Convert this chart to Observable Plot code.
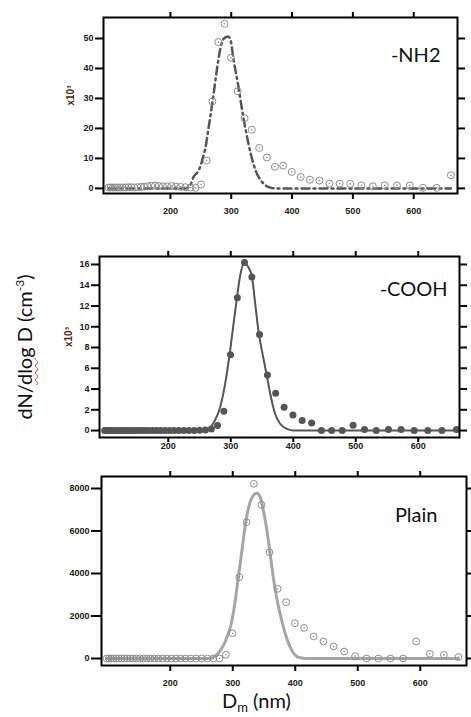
<!DOCTYPE html>
<html><head><meta charset="utf-8">
<script src="https://cdn.jsdelivr.net/npm/d3@7"></script>
<script src="https://cdn.jsdelivr.net/npm/@observablehq/plot@0.6"></script>
<style>
html,body{margin:0;padding:0;background:#fff;}
#chart{position:relative;width:471px;height:717px;overflow:hidden;background:#fff;}
#chart svg{display:block;}
.ylab{position:absolute;left:24px;top:347px;transform:translate(-50%,-50%) rotate(-90deg);white-space:nowrap;font-family:Lato,"Open Sans",sans-serif;font-size:20px;color:#111;line-height:1;}
.ylab sup{font-size:12px;vertical-align:8px;line-height:0;}
.sq{text-decoration:underline wavy #e23030;text-decoration-thickness:1px;text-underline-offset:2px;}
.xlab{position:absolute;left:222px;top:690px;white-space:nowrap;font-family:Lato,"Open Sans",sans-serif;font-size:20px;color:#111;line-height:1;}
.xlab sub{font-size:13px;vertical-align:-4px;line-height:0;}
</style>
</head><body>
<div id="chart"></div>
<script>
// Mobility diameter bins (nm)
const diameters = [98.2, 101.8, 105.5, 109.4, 113.4, 117.6, 121.9, 126.3, 131.0, 135.8, 140.7, 145.9, 151.2, 156.8, 162.5, 168.5, 174.7, 181.1, 187.7, 194.6, 201.7, 209.1, 216.7, 224.7, 232.9, 241.4, 250.3, 259.5, 269.0, 278.8, 289.0, 299.6, 310.6, 322.0, 333.8, 346.0, 358.7, 371.8, 385.4, 399.5, 414.2, 429.4, 445.1, 461.4, 478.3, 495.8, 514.0, 532.8, 552.3, 572.5, 593.5, 615.3, 637.8, 661.2];

// -NH2 measured (x10^3)
const nh2Values = [0.3, 0.3, 0.3, 0.3, 0.3, 0.3, 0.3, 0.3, 0.4, 0.4, 0.3, 0.4, 0.5, 0.6, 0.7, 0.9, 1.0, 0.8, 0.7, 0.7, 0.8, 0.6, 0.5, 0.4, 0.3, 0.2,
  1.3, 9.3, 29, 48.8, 54.9, 43.6, 32.4, 23.4, 19.6, 13.5, 10.3, 7.2, 7.6, 5.5, 3.8, 2.9, 2.6, 1.6, 1.6, 1.5, 1.0, 0.7, 1.0, 1.0, 1.0, 0.2, 0.2, 4.4];
// -NH2 fit
const nh2FitX = [98, 225, 232, 238, 247, 252, 258, 263, 270, 276, 282, 288, 295, 299, 304, 311, 318, 325, 332, 340, 351, 362, 372, 661];
const nh2FitY = [0, 0, 0.8, 3.8, 6.2, 9.2, 14, 20.5, 30, 39, 46.5, 50, 50.7, 49.3, 42.7, 34.9, 26, 18.2, 11.6, 6, 2.1, 0.4, 0, 0];

// -COOH measured (x10^3)
const coohValues = [0, 0, 0, 0, 0, 0, 0, 0, 0, 0, 0, 0, 0, 0, 0, 0, 0, 0, 0, 0, 0, 0, 0, 0, 0, 0, 0.03, 0.05,
  0.16, 0.48, 1.85, 7.3, 12.8, 16.2, 14.8, 9.25, 5.35, 3.6, 2.25, 1.5, 0.98, 0.72, 0, 0, 0, 0.5, 0.1, 0, 0.1, 0.1, 0, 0, 0, 0.1];
const coohFitX = [98, 260, 267, 275, 283, 291, 299, 304.5, 310, 315, 321.6, 328.5, 334, 339, 344.5, 351.5, 358, 364, 371, 379, 390, 400, 661];
const coohFitY = [0, 0, 0.3, 1.0, 2.25, 4.5, 7.7, 10.3, 12.85, 14.9, 16.2, 15.7, 14.8, 12.3, 9.5, 7.2, 5.2, 3.3, 1.6, 0.65, 0.16, 0, 0];

// Plain measured
const plainValues = [0, 0, 0, 0, 0, 0, 0, 0, 0, 0, 0, 0, 0, 0, 0, 0, 0, 0, 0, 0, 0, 0, 0, 0, 0, 0, 0, 0, 0, 0,
  175, 1190, 3830, 6415, 8220, 7230, 5000, 3280, 2650, 1660, 1440, 1035, 800, 565, 330, 110, 0, 0, 0, 0, 800, 220, 170, 70];
const plainFitX = [98, 262, 269, 280, 290.7, 298.7, 304, 309, 314.7, 320, 327, 333, 338.7, 344, 349, 354.7, 360, 365, 370.7, 378.7, 386.7, 394.7, 405, 420, 661];
const plainFitY = [0, 0, 60, 376, 1000, 1790, 2730, 3830, 5080, 6260, 7280, 7670, 7780, 7590, 6960, 6020, 4900, 3800, 2800, 1750, 925, 376, 60, 0, 0];

const xTicks = [200, 300, 400, 500, 600];
const nh2Ticks = [0, 10, 20, 30, 40, 50];
const coohTicks = [0, 2, 4, 6, 8, 10, 12, 14, 16];
const plainTicks = [0, 2000, 4000, 6000, 8000];
const panelLabels = ["-NH2", "-COOH", "Plain"];

const pts = (vals) => diameters.map((d, i) => ({d, v: vals[i]}));
const fit = (xs, ys) => xs.map((d, i) => ({d, v: ys[i]}));

const tickFont = {fontSize: 9, fontWeight: "bold", fill: "#231a12"};
function axes(yTicks, o) {
  return [
    Plot.frame({stroke: "#000", strokeWidth: 2}),
    Plot.axisX(xTicks, {anchor: "bottom", tickSize: o.bx, tickPadding: o.bp, strokeWidth: 2, label: null, tickFormat: "d", ...tickFont}),
    Plot.axisX(xTicks, {anchor: "top", tickSize: 6, strokeWidth: 2, label: null, tickFormat: () => ""}),
    Plot.axisY(yTicks, {anchor: "left", tickSize: o.ly, tickPadding: 2, strokeWidth: 2, label: null, tickFormat: "d", ...tickFont}),
    Plot.axisY(yTicks, {anchor: "right", tickSize: 7, strokeWidth: 2, label: null, tickFormat: () => ""})
  ];
}
const style = {fontFamily: "'Liberation Sans', Arial, sans-serif", background: "transparent", overflow: "visible"};
const labelStyle = {fontFamily: "Lato, 'Open Sans', sans-serif", fontSize: 20, fill: "#111", textAnchor: "end", lineAnchor: "middle"};
const expStyle = {fontSize: 10, fontWeight: "bold", fill: "#4a2a1a", rotate: -90, frameAnchor: "left"};

const p1 = Plot.plot({
  width: 471, height: 220, marginLeft: 103, marginRight: 14, marginTop: 17, marginBottom: 27,
  x: {domain: [90, 672]}, y: {domain: [-1.7, 57]}, style,
  marks: [
    Plot.line(fit(nh2FitX, nh2FitY), {x: "d", y: "v", curve: "monotone-x", stroke: "#555", strokeWidth: 2.5, strokeDasharray: "8,4,2,4"}),
    Plot.dot(pts(nh2Values), {x: "d", y: "v", r: 3.5, stroke: "#8c8c8c", strokeWidth: 1}),
    Plot.dot(pts(nh2Values), {x: "d", y: "v", r: 0.8, fill: "#8c8c8c"}),
    ...axes(nh2Ticks, {bx: 6, bp: 8, ly: 8}),
    Plot.text([panelLabels[0]], {frameAnchor: "top-right", dx: -17, dy: 38, ...labelStyle}),
    Plot.text(["x10³"], {dx: -33, ...expStyle})
  ]
});

const p2 = Plot.plot({
  width: 471, height: 250, marginLeft: 99, marginRight: 12, marginTop: 36, marginBottom: 33,
  x: {domain: [90, 666]}, y: {domain: [-0.67, 16.77]}, style,
  marks: [
    Plot.line(fit(coohFitX, coohFitY), {x: "d", y: "v", curve: "monotone-x", stroke: "#555", strokeWidth: 2}),
    Plot.dot(pts(coohValues), {x: "d", y: "v", r: 3.5, fill: "#555"}),
    ...axes(coohTicks, {bx: 5, bp: 0, ly: 8}),
    Plot.text([panelLabels[1]], {frameAnchor: "top-right", dx: -12, dy: 33, ...labelStyle}),
    Plot.text(["x10³"], {dx: -31, ...expStyle})
  ]
});

const p3 = Plot.plot({
  width: 471, height: 247, marginLeft: 101, marginRight: 5, marginTop: 6, marginBottom: 52,
  x: {domain: [90, 674]}, y: {domain: [-330, 8565]}, style,
  marks: [
    Plot.line(fit(plainFitX, plainFitY), {x: "d", y: "v", curve: "monotone-x", stroke: "#a6a6a6", strokeWidth: 3, strokeDasharray: "1.5,0.6"}),
    Plot.dot(pts(plainValues), {x: "d", y: "v", r: 3.4, stroke: "#8c8c8c", strokeWidth: 1}),
    Plot.dot(pts(plainValues), {x: "d", y: "v", r: 0.8, fill: "#8c8c8c"}),
    ...axes(plainTicks, {bx: 6, bp: 8, ly: 10}),
    Plot.text([panelLabels[2]], {frameAnchor: "top-right", dx: -29, dy: 39, ...labelStyle})
  ]
});

const chart = document.getElementById("chart");
chart.append(p1, p2, p3);
const yl = document.createElement("div");
yl.className = "ylab";
yl.innerHTML = 'dN/<span class="sq">dlog</span> D (cm<sup>-3</sup>)';
chart.append(yl);
const xl = document.createElement("div");
xl.className = "xlab";
xl.innerHTML = 'D<sub>m</sub> (nm)';
chart.append(xl);
</script>
</body></html>
